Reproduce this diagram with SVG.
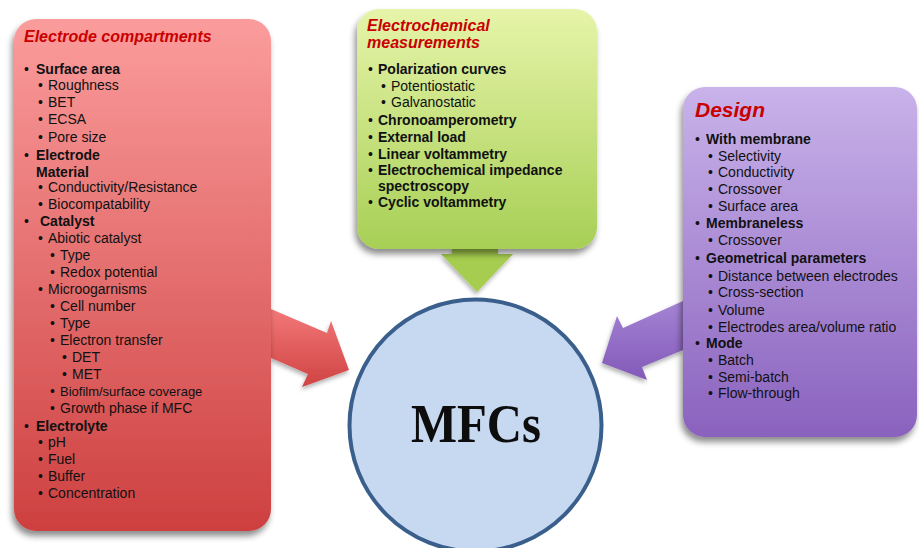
<svg xmlns="http://www.w3.org/2000/svg" width="919" height="548" viewBox="0 0 919 548">
  <defs>
    <linearGradient id="gradRed" x1="0" y1="0" x2="0" y2="1">
      <stop offset="0" stop-color="#fb9c9c"/>
      <stop offset="1" stop-color="#ce4040"/>
    </linearGradient>
    <linearGradient id="gradGreen" x1="0" y1="0" x2="0" y2="1">
      <stop offset="0" stop-color="#e6f4a9"/>
      <stop offset="1" stop-color="#a7cf55"/>
    </linearGradient>
    <linearGradient id="gradPurple" x1="0" y1="0" x2="0" y2="1">
      <stop offset="0" stop-color="#c9b3ea"/>
      <stop offset="1" stop-color="#8a62be"/>
    </linearGradient>
    <linearGradient id="gradRedArrow" x1="0" y1="0" x2="0" y2="1">
      <stop offset="0" stop-color="#f27878"/>
      <stop offset="1" stop-color="#d04343"/>
    </linearGradient>
    <linearGradient id="gradPurpleArrow" x1="0" y1="0" x2="0" y2="1">
      <stop offset="0" stop-color="#a584d4"/>
      <stop offset="1" stop-color="#8259b8"/>
    </linearGradient>
    <filter id="shadow" x="-10%" y="-10%" width="120%" height="120%">
      <feDropShadow dx="-2" dy="5" stdDeviation="3" flood-color="#000" flood-opacity="0.45"/>
    </filter>
    <filter id="softShadow" x="-20%" y="-20%" width="140%" height="140%">
      <feDropShadow dx="-1" dy="3" stdDeviation="2" flood-color="#000" flood-opacity="0.3"/>
    </filter>
  </defs>
  <style>
    text { font-family: "Liberation Sans", Arial, sans-serif; font-size: 14px; fill: #111; }
    .b { font-weight: bold; }
    .sm { font-size: 13px; }
    .title { font-weight: bold; font-style: italic; fill: #c80000; font-size: 16px; }
    .big { font-size: 21px; }
    .mfc { font-family: "Liberation Serif", "Times New Roman", serif; font-weight: bold; font-size: 54px; fill: #0d0d0d; }
  </style>

  <!-- connectors: arrows pointing into the central circle -->
  <g id="connectors">
    <polygon points="271,309 327,333 331,321 349,370 302,387 308,374 271,358" fill="url(#gradRedArrow)" filter="url(#softShadow)"/>
    <polygon points="683,301 623,328 617,316 602,363 647,380 642,367 683,350" fill="url(#gradPurpleArrow)" filter="url(#softShadow)"/>
    <polygon points="452,248 498,248 498,254 513,254 477,292 441,254 452,254" fill="#a6cd4f" filter="url(#softShadow)"/>
  </g>

  <!-- electrode compartments -->
  <g id="electrode-compartments">
    <rect x="14" y="19" width="257" height="512" rx="22" fill="url(#gradRed)" filter="url(#shadow)"/>
    <text class="title" x="24" y="42">Electrode compartments</text>
    <text x="24" y="74">•</text><text class="b" x="36" y="74">Surface area</text>
    <text x="38" y="90">•</text><text x="48" y="90">Roughness</text>
    <text x="38" y="107">•</text><text x="48" y="107">BET</text>
    <text x="38" y="124">•</text><text x="48" y="124">ECSA</text>
    <text x="38" y="142">•</text><text x="48" y="142">Pore size</text>
    <text x="24" y="160">•</text><text class="b" x="36" y="160">Electrode</text>
    <text class="b" x="36" y="177">Material</text>
    <text x="38" y="192">•</text><text x="48" y="192">Conductivity/Resistance</text>
    <text x="38" y="209">•</text><text x="48" y="209">Biocompatability</text>
    <text x="24" y="226">•</text><text class="b" x="40" y="226">Catalyst</text>
    <text x="38" y="243">•</text><text x="48" y="243">Abiotic catalyst</text>
    <text x="50" y="260">•</text><text x="60" y="260">Type</text>
    <text x="50" y="277">•</text><text x="60" y="277">Redox potential</text>
    <text x="38" y="294">•</text><text x="48" y="294">Microogarnisms</text>
    <text x="50" y="311">•</text><text x="60" y="311">Cell number</text>
    <text x="50" y="328">•</text><text x="60" y="328">Type</text>
    <text x="50" y="345">•</text><text x="60" y="345">Electron transfer</text>
    <text x="62" y="362">•</text><text x="72" y="362">DET</text>
    <text x="62" y="379">•</text><text x="72" y="379">MET</text>
    <text x="50" y="396">•</text><text class="sm" x="60" y="396">Biofilm/surface coverage</text>
    <text x="50" y="413">•</text><text x="60" y="413">Growth phase if MFC</text>
    <text x="24" y="431">•</text><text class="b" x="36" y="431">Electrolyte</text>
    <text x="38" y="447">•</text><text x="48" y="447">pH</text>
    <text x="38" y="464">•</text><text x="48" y="464">Fuel</text>
    <text x="38" y="481">•</text><text x="48" y="481">Buffer</text>
    <text x="38" y="498">•</text><text x="48" y="498">Concentration</text>
  </g>

  <!-- electrochemical measurements -->
  <g id="electrochemical-measurements">
    <rect x="357" y="9" width="240" height="240" rx="22" fill="url(#gradGreen)" filter="url(#shadow)"/>
    <text class="title" x="367" y="31">Electrochemical</text>
    <text class="title" x="367" y="48">measurements</text>
    <text x="368" y="74">•</text><text class="b" x="378" y="74">Polarization curves</text>
    <text x="381" y="91">•</text><text x="391" y="91">Potentiostatic</text>
    <text x="381" y="107">•</text><text x="391" y="107">Galvanostatic</text>
    <text x="368" y="125">•</text><text class="b" x="378" y="125">Chronoamperometry</text>
    <text x="368" y="142">•</text><text class="b" x="378" y="142">External load</text>
    <text x="368" y="159">•</text><text class="b" x="378" y="159">Linear voltammetry</text>
    <text x="368" y="175">•</text><text class="b" x="378" y="175">Electrochemical impedance</text>
    <text class="b" x="378" y="191">spectroscopy</text>
    <text x="368" y="207">•</text><text class="b" x="378" y="207">Cyclic voltammetry</text>
  </g>

  <!-- design -->
  <g id="design">
    <rect x="683" y="87" width="234" height="350" rx="22" fill="url(#gradPurple)" filter="url(#shadow)"/>
    <text class="title big" x="695" y="117">Design</text>
    <text x="695" y="144">•</text><text class="b" x="706" y="144">With membrane</text>
    <text x="708" y="161">•</text><text x="718" y="161">Selectivity</text>
    <text x="708" y="177">•</text><text x="718" y="177">Conductivity</text>
    <text x="708" y="194">•</text><text x="718" y="194">Crossover</text>
    <text x="708" y="211">•</text><text x="718" y="211">Surface area</text>
    <text x="695" y="228">•</text><text class="b" x="706" y="228">Membraneless</text>
    <text x="708" y="245">•</text><text x="718" y="245">Crossover</text>
    <text x="695" y="263">•</text><text class="b" x="706" y="263">Geometrical parameters</text>
    <text x="708" y="281">•</text><text x="718" y="281">Distance between electrodes</text>
    <text x="708" y="297">•</text><text x="718" y="297">Cross-section</text>
    <text x="708" y="315">•</text><text x="718" y="315">Volume</text>
    <text x="708" y="332">•</text><text x="718" y="332">Electrodes area/volume ratio</text>
    <text x="695" y="348">•</text><text class="b" x="706" y="348">Mode</text>
    <text x="708" y="365">•</text><text x="718" y="365">Batch</text>
    <text x="708" y="382">•</text><text x="718" y="382">Semi-batch</text>
    <text x="708" y="398">•</text><text x="718" y="398">Flow-through</text>
  </g>

  <!-- central MFCs node -->
  <g id="mfcs">
    <circle cx="475.5" cy="425.5" r="126" fill="#c6d9f1" stroke="#3a5f8c" stroke-width="4"/>
    <text class="mfc" x="476" y="442" text-anchor="middle" textLength="130" lengthAdjust="spacingAndGlyphs">MFCs</text>
  </g>
</svg>
